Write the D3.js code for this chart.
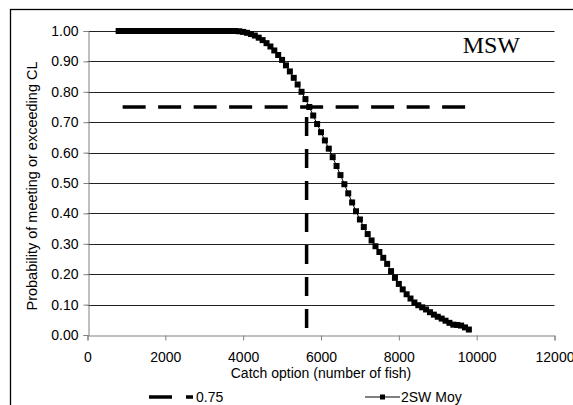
<!DOCTYPE html>
<html>
<head>
<meta charset="utf-8">
<script src="https://cdn.jsdelivr.net/npm/d3@7"></script>
<style>
  html, body { margin: 0; padding: 0; background: #fff; }
  svg { display: block; }
  text { font-family: "Liberation Sans", Arial, sans-serif; fill: #000; }
</style>
</head>
<body>
<svg id="chart" width="573" height="405"></svg>
<script>
// ---- data ----
const catchOptions = [800, 900, 1000, 1100, 1200, 1300, 1400, 1500, 1600, 1700, 1800, 1900,
  2000, 2100, 2200, 2300, 2400, 2500, 2600, 2700, 2800, 2900, 3000, 3100, 3200, 3300, 3400,
  3500, 3600, 3700, 3800, 3900, 4000, 4100, 4200, 4300, 4400, 4500, 4600, 4700, 4800, 4900,
  5000, 5100, 5200, 5300, 5400, 5500, 5600, 5700, 5800, 5900, 6000, 6100, 6200, 6300, 6400,
  6500, 6600, 6700, 6800, 6900, 7000, 7100, 7200, 7300, 7400, 7500, 7600, 7700, 7800, 7900,
  8000, 8100, 8200, 8300, 8400, 8500, 8600, 8700, 8800, 8900, 9000, 9100, 9200, 9300, 9400,
  9500, 9600, 9700, 9800];
const prob2SWMoy = [1.00, 1.00, 1.00, 1.00, 1.00, 1.00, 1.00, 1.00, 1.00, 1.00, 1.00, 1.00,
  1.00, 1.00, 1.00, 1.00, 1.00, 1.00, 1.00, 1.00, 1.00, 1.00, 1.00, 1.00, 1.00, 1.00, 1.00,
  1.00, 1.00, 1.00, 1.00, 0.999, 0.997, 0.994, 0.990, 0.985, 0.978, 0.970, 0.960, 0.949, 0.936, 0.921,
  0.905, 0.887, 0.867, 0.846, 0.824, 0.800, 0.776, 0.750, 0.722, 0.694, 0.667, 0.640, 0.613, 0.585, 0.556,
  0.526, 0.496, 0.466, 0.436, 0.407, 0.380, 0.355, 0.332, 0.311, 0.292, 0.273, 0.254, 0.234, 0.210, 0.188,
  0.168, 0.150, 0.134, 0.120, 0.107, 0.098, 0.091, 0.084, 0.075, 0.067, 0.060, 0.054, 0.047, 0.040, 0.034,
  0.033, 0.031, 0.025, 0.018];
const thresholdProb = 0.75;
const thresholdCatch = 5630;
const thresholdRange = [800, 9800];
const xTicks = [0, 2000, 4000, 6000, 8000, 10000, 12000];
const yTicks = [0, 0.1, 0.2, 0.3, 0.4, 0.5, 0.6, 0.7, 0.8, 0.9, 1.0];
const seriesName = "2SW Moy";
const thresholdName = "0.75";
const panelLabel = "MSW";
const xTitle = "Catch option (number of fish)";
const yTitle = "Probability of meeting or exceeding CL";

// ---- layout ----
const svg = d3.select("#chart");
svg.append("rect").attr("width", 573).attr("height", 405).attr("fill", "#fff");
// outer frame (extends past right/bottom edge)
svg.append("rect").attr("x", 10.5).attr("y", 9.5).attr("width", 600).attr("height", 420)
  .attr("fill", "none").attr("stroke", "#000").attr("stroke-width", 1.3);

const x = d3.scaleLinear().domain([0, 12000]).range([87.5, 554.5]);
const y = d3.scaleLinear().domain([0, 1]).range([335, 31]);

// gridlines
svg.append("g").selectAll("line").data(yTicks.filter(d => d > 0)).join("line")
  .attr("x1", x(0)).attr("x2", x(12000))
  .attr("y1", d => Math.round(y(d)) + 0.5).attr("y2", d => Math.round(y(d)) + 0.5)
  .attr("stroke", "#222").attr("stroke-width", 1);

// y axis
const yAxis = svg.append("g").attr("transform", `translate(${Math.round(x(0)) + 0.5},0)`)
  .call(d3.axisLeft(y).tickValues(yTicks).tickFormat(d3.format(".2f")).tickSizeOuter(0).tickSize(5).tickPadding(5));
yAxis.select(".domain").attr("stroke", "#808080");
yAxis.selectAll(".tick line").attr("stroke", "#808080");
yAxis.selectAll("text").style("font-size", "14px").attr("font-family", null);

// x axis
const xAxis = svg.append("g").attr("transform", `translate(0,${Math.round(y(0)) + 0.5})`)
  .call(d3.axisBottom(x).tickValues(xTicks).tickFormat(d3.format("d")).tickSizeOuter(0).tickSize(5).tickPadding(12));
xAxis.select(".domain").attr("stroke", "#808080");
xAxis.selectAll(".tick line").attr("stroke", "#808080");
xAxis.selectAll("text").style("font-size", "14px").attr("font-family", null);

// axis titles
svg.append("text").attr("x", x(6000)).attr("y", 378).attr("text-anchor", "middle")
  .style("font-size", "14px").text(xTitle);
svg.append("text").attr("transform", `translate(37,186) rotate(-90)`).attr("text-anchor", "middle")
  .style("font-size", "14.5px").text(yTitle);

// threshold horizontal line
svg.append("line")
  .attr("x1", x(thresholdRange[0])).attr("x2", x(thresholdRange[1]))
  .attr("y1", y(thresholdProb)).attr("y2", y(thresholdProb))
  .attr("stroke", "#000").attr("stroke-width", 3.5)
  .attr("stroke-dasharray", "23 12.5").attr("stroke-dashoffset", -4);

// threshold vertical line (drawn bottom-up)
svg.append("line")
  .attr("x1", x(thresholdCatch)).attr("x2", x(thresholdCatch))
  .attr("y1", y(0)).attr("y2", y(thresholdProb))
  .attr("stroke", "#000").attr("stroke-width", 3.5)
  .attr("stroke-dasharray", "19 13").attr("stroke-dashoffset", 25);

// series
const pts = catchOptions.map((c, i) => [c, prob2SWMoy[i]]);
svg.append("path").datum(pts)
  .attr("d", d3.line().x(d => x(d[0])).y(d => y(d[1])))
  .attr("fill", "none").attr("stroke", "#000").attr("stroke-width", 1);
svg.append("g").selectAll("rect").data(pts).join("rect")
  .attr("x", d => x(d[0]) - 3).attr("y", d => y(d[1]) - 3)
  .attr("width", 6).attr("height", 6).attr("fill", "#000");

// panel label
svg.append("text").attr("x", 520).attr("y", 53).attr("text-anchor", "end")
  .style("font-family", "'Liberation Serif', 'Times New Roman', serif").style("font-size", "24px")
  .text(panelLabel);

// legend
const ly = 397;
svg.append("line").attr("x1", 149).attr("x2", 193).attr("y1", ly).attr("y2", ly)
  .attr("stroke", "#000").attr("stroke-width", 3.5).attr("stroke-dasharray", "23 14");
svg.append("text").attr("x", 196).attr("y", ly + 5).style("font-size", "14px").text(thresholdName);

svg.append("line").attr("x1", 365).attr("x2", 400).attr("y1", ly).attr("y2", ly)
  .attr("stroke", "#000").attr("stroke-width", 1);
svg.append("rect").attr("x", 380).attr("y", ly - 2.5).attr("width", 5).attr("height", 5).attr("fill", "#000");
svg.append("text").attr("x", 401).attr("y", ly + 5).style("font-size", "14px").text(seriesName);
</script>
</body>
</html>
